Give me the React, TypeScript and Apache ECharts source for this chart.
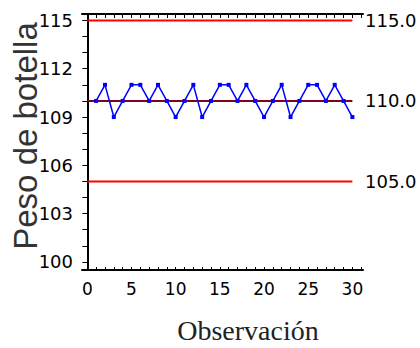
import React, { useEffect, useRef } from "react";
import * as echarts from "echarts";

const observations = [1, 2, 3, 4, 5, 6, 7, 8, 9, 10, 11, 12, 13, 14, 15, 16, 17, 18, 19, 20, 21, 22, 23, 24, 25, 26, 27, 28, 29, 30];
const weights = [110, 111, 109, 110, 111, 111, 110, 111, 110, 109, 110, 111, 109, 110, 111, 111, 110, 111, 110, 109, 110, 111, 109, 110, 111, 111, 110, 111, 110, 109];
const ucl = 115;
const centerLine = 110;
const lcl = 105;
const limitSpan = [0, 30];
const xTickLabels = [0, 5, 10, 15, 20, 25, 30];
const xTicks = [0, 1, 2, 3, 4, 5, 6, 7, 8, 9, 10, 11, 12, 13, 14, 15, 16, 17, 18, 19, 20, 21, 22, 23, 24, 25, 26, 27, 28, 29, 30, 31];
const yLeftLabels = [100, 103, 106, 109, 112, 115];
const yRightTicks = [100, 101, 102, 103, 104, 105, 106, 107, 108, 109, 110, 111, 112, 113, 114, 115];
const yRightLabels = [105, 110, 115];

const labelFont = { fontFamily: "DejaVu Sans", fontSize: 18, color: "#000" };

export default function App() {
  const ref = useRef<HTMLDivElement>(null);
  useEffect(() => {
    const chart = echarts.init(ref.current!, null, { renderer: "svg" });
    const xBase = { type: "value", min: -0.6, max: 31.2, splitLine: { show: false } };
    const yBase = { type: "value", min: 99.5, max: 115.4, splitLine: { show: false } };
    chart.setOption({
      animation: false,
      grid: { left: 82, right: 57, top: 14, bottom: 78 },
      xAxis: [
        {
          ...xBase,
          position: "bottom",
          axisLine: { lineStyle: { color: "#000", width: 2 } },
          axisTick: { inside: true, length: 3, customValues: xTicks, lineStyle: { color: "#000", width: 1 } },
          axisLabel: { ...labelFont, fontSize: 17, margin: 10, customValues: xTickLabels },
        },
        {
          ...xBase,
          position: "top",
          axisLine: { lineStyle: { color: "#000", width: 2 } },
          axisTick: { inside: true, length: 4, customValues: xTicks, lineStyle: { color: "#000", width: 1 } },
          axisLabel: { show: false },
        },
      ],
      yAxis: [
        {
          ...yBase,
          position: "left",
          axisLine: { lineStyle: { color: "#000", width: 2 } },
          axisTick: { inside: false, length: 4, customValues: yLeftLabels, lineStyle: { color: "#000", width: 1 } },
          axisLabel: { ...labelFont, margin: 9, customValues: yLeftLabels },
        },
        {
          ...yBase,
          position: "right",
          axisLine: { lineStyle: { color: "#000", width: 2 } },
          axisTick: { inside: true, length: 5, customValues: yRightTicks, lineStyle: { color: "#000", width: 1 } },
          axisLabel: { ...labelFont, margin: 2, customValues: yRightLabels, formatter: (v: number) => v.toFixed(1) },
        },
      ],
      graphic: [
        {
          type: "text",
          x: 25,
          y: 136,
          rotation: Math.PI / 2,
          style: {
            text: "Peso de botella",
            font: "33px 'Liberation Sans', Arial, sans-serif",
            fill: "#333",
            textAlign: "center",
            textVerticalAlign: "middle",
          },
        },
        {
          type: "text",
          x: 248,
          y: 330,
          style: {
            text: "Observación",
            font: "28px 'Liberation Serif', 'Times New Roman', serif",
            fill: "#222",
            textAlign: "center",
            textVerticalAlign: "middle",
          },
        },
      ],
      series: [
        {
          type: "line",
          data: limitSpan.map((x) => [x, ucl]),
          symbol: "none",
          lineStyle: { color: "#ff0000", width: 2 },
          silent: true,
        },
        {
          type: "line",
          data: limitSpan.map((x) => [x, lcl]),
          symbol: "none",
          lineStyle: { color: "#ff0000", width: 2 },
          silent: true,
        },
        {
          type: "line",
          data: limitSpan.map((x) => [x, centerLine]),
          symbol: "none",
          lineStyle: { color: "#800020", width: 2 },
          silent: true,
        },
        {
          type: "line",
          data: observations.map((o, i) => [o, weights[i]]),
          symbol: "rect",
          symbolSize: 4,
          itemStyle: { color: "#0000ff" },
          lineStyle: { color: "#0000ff", width: 1.5 },
          z: 5,
        },
      ],
    });
    return () => chart.dispose();
  }, []);
  return <div ref={ref} style={{ position: "absolute", left: 0, top: 0, width: 420, height: 348 }} />;
}
